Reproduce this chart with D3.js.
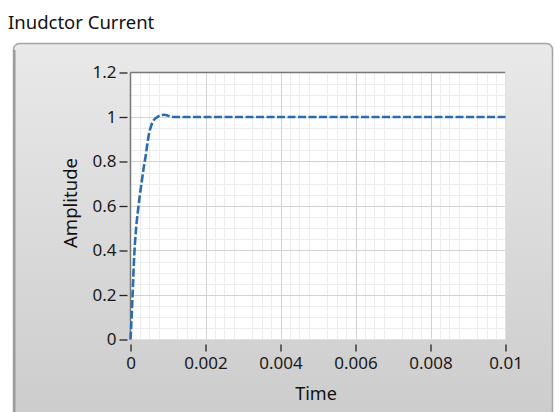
<!DOCTYPE html>
<html><head><meta charset="utf-8">
<script src="https://cdn.jsdelivr.net/npm/d3@7"></script>
<style>body{margin:0;background:#ffffff;}svg{display:block;}</style>
</head><body>
<svg id="c" width="555" height="412"></svg>
<script>
const title = "Inudctor Current";
const xLabel = "Time";
const yLabel = "Amplitude";
const xTicks = [0, 0.002, 0.004, 0.006, 0.008, 0.01];
const xTickLabels = ["0", "0.002", "0.004", "0.006", "0.008", "0.01"];
const yTicks = [0, 0.2, 0.4, 0.6, 0.8, 1, 1.2];
const yTickLabels = ["0", "0.2", "0.4", "0.6", "0.8", "1", "1.2"];
const timeValues = [0, 0.00003, 0.00006, 0.0001, 0.00015, 0.0002, 0.00025, 0.0003, 0.00035, 0.0004, 0.00045, 0.0005, 0.00055, 0.0006, 0.0007, 0.0008, 0.0009, 0.001, 0.0011, 0.0012, 0.002, 0.004, 0.006, 0.008, 0.01];
const currentValues = [0, 0.1, 0.22, 0.38, 0.5, 0.58, 0.65, 0.71, 0.77, 0.82, 0.88, 0.93, 0.96, 0.98, 0.998, 1.008, 1.01, 1.006, 1.001, 1.0, 1.0, 1.0, 1.0, 1.0, 1.0];

const svg = d3.select("#c");
const font = "'Noto Sans', 'Open Sans', sans-serif";

const defs = svg.append("defs");
const g = defs.append("linearGradient").attr("id","pg").attr("x1",0).attr("y1",0).attr("x2",0).attr("y2",1);
g.append("stop").attr("offset","0%").attr("stop-color","#e9e9e9");
g.append("stop").attr("offset","100%").attr("stop-color","#cbcbcb");

svg.append("text").attr("x",8).attr("y",29).attr("font-family",font).attr("font-size",18.5)
  .attr("fill","#111").text(title);

// panel
svg.append("rect").attr("x",13.5).attr("y",43.5).attr("width",539).attr("height",390).attr("rx",6)
  .attr("fill","url(#pg)").attr("stroke","#a5a5a5").attr("stroke-width",1.5);
svg.append("line").attr("x1",14.5).attr("x2",14.5).attr("y1",50).attr("y2",412).attr("stroke","#9a9a9a").attr("stroke-width",2);

const L = 130.5, R = 505.5, T = 72.5, B = 339.5;
const x = d3.scaleLinear().domain([0, 0.01]).range([L, R]);
const y = d3.scaleLinear().domain([0, 1.2]).range([B, T]);

svg.append("rect").attr("x",L).attr("y",T).attr("width",R-L).attr("height",B-T).attr("fill","#ffffff");

// grid
const grid = svg.append("g");
grid.selectAll(".xm").data(d3.range(1,40).filter(i=>i%4!==0).map(i=>i*0.00025)).join("line")
  .attr("x1",d=>Math.round(x(d))+0.5).attr("x2",d=>Math.round(x(d))+0.5).attr("y1",T).attr("y2",B)
  .attr("stroke","#ececec").attr("stroke-width",1);
grid.selectAll(".ym").data(d3.range(1,24).filter(i=>i%4!==0).map(i=>i*0.05)).join("line")
  .attr("y1",d=>Math.round(y(d))+0.5).attr("y2",d=>Math.round(y(d))+0.5).attr("x1",L).attr("x2",R)
  .attr("stroke","#ececec").attr("stroke-width",1);
grid.selectAll(".xM").data(xTicks.slice(1,-1)).join("line")
  .attr("x1",d=>Math.round(x(d))+0.5).attr("x2",d=>Math.round(x(d))+0.5).attr("y1",T).attr("y2",B)
  .attr("stroke","#d2d2d2").attr("stroke-width",1);
grid.selectAll(".yM").data(yTicks.slice(1,-1)).join("line")
  .attr("y1",d=>Math.round(y(d))+0.5).attr("y2",d=>Math.round(y(d))+0.5).attr("x1",L).attr("x2",R)
  .attr("stroke","#d2d2d2").attr("stroke-width",1);

// plot border
svg.append("line").attr("x1",L).attr("x2",R).attr("y1",T).attr("y2",T).attr("stroke","#777").attr("stroke-width",1.5);
svg.append("line").attr("x1",L).attr("x2",L).attr("y1",T).attr("y2",B).attr("stroke","#777").attr("stroke-width",1.5);
svg.append("line").attr("x1",R).attr("x2",R).attr("y1",T).attr("y2",B).attr("stroke","#e0e0e0").attr("stroke-width",1);
svg.append("line").attr("x1",L).attr("x2",R).attr("y1",B).attr("y2",B).attr("stroke","#e0e0e0").attr("stroke-width",1);

// y axis
const yAxis = d3.axisLeft(y).tickValues(yTicks).tickSize(8).tickPadding(3)
  .tickFormat((d,i)=>yTickLabels[i]);
const ya = svg.append("g").attr("transform",`translate(${L-3},0)`).call(yAxis);
ya.select(".domain").remove();
ya.selectAll(".tick line").attr("stroke","#222").attr("stroke-width",1.3);
ya.selectAll(".tick text").attr("font-family",font).attr("font-size",17).attr("fill","#1a1a1a");

// x axis
const xAxis = d3.axisBottom(x).tickValues(xTicks).tickSize(7).tickPadding(5)
  .tickFormat((d,i)=>xTickLabels[i]);
const xa = svg.append("g").attr("transform",`translate(0,${B+5})`).call(xAxis);
xa.select(".domain").remove();
xa.selectAll(".tick line").attr("stroke","#222").attr("stroke-width",1.3);
xa.selectAll(".tick text").attr("font-family",font).attr("font-size",17).attr("fill","#1a1a1a");

svg.append("text").attr("x",316).attr("y",400).attr("text-anchor","middle").attr("font-family",font)
  .attr("font-size",18).attr("fill","#111").text(xLabel);
svg.append("text").attr("transform","translate(77,203) rotate(-90)").attr("text-anchor","middle").attr("font-family",font)
  .attr("font-size",18.5).attr("fill","#111").text(yLabel);

// curve
const data = timeValues.map((t,i)=>({t, v: currentValues[i]}));
const line = d3.line().x(d=>x(d.t)).y(d=>y(d.v)).curve(d3.curveMonotoneX);
svg.append("path").datum(data).attr("d",line).attr("fill","none")
  .attr("stroke","#2a6cae").attr("stroke-width",2.6).attr("stroke-dasharray","8,2.5");
</script>
</body></html>
